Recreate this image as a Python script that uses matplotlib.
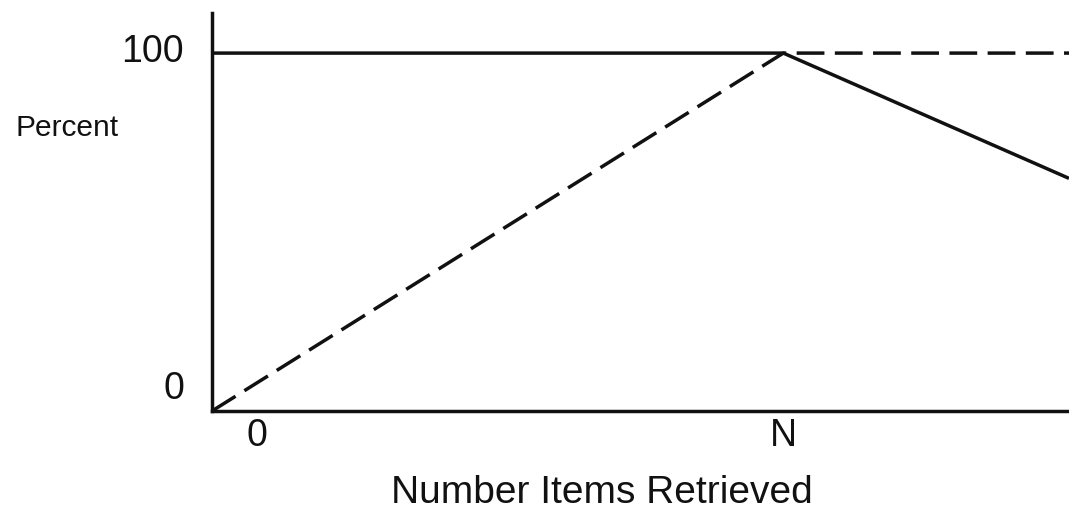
import matplotlib
matplotlib.use("Agg")
import matplotlib.pyplot as plt

# items retrieved, in units of N
items = [0, 1, 1.5]
precision = [100, 100, 65]   # solid
recall = [0, 100, 100]       # dashed

x_ticks = [0, 1]
x_tick_labels = ["0", "N"]
y_ticks = [0, 100]
y_tick_labels = ["0", "100"]

plt.rcParams["font.family"] = ["Liberation Sans", "DejaVu Sans"]
plt.rcParams["lines.scale_dashes"] = False

fig = plt.figure(figsize=(10.69, 5.17), dpi=100)
ax = fig.add_axes([212 / 1069, 106 / 517, 857 / 1069, 398 / 517])

ink = "#111111"
ax.plot(items, precision, color=ink, lw=2.5, solid_capstyle="butt")
ax.plot(items, recall, color=ink, lw=2.5, dashes=(20, 7.5), dash_capstyle="butt")

ax.set_xlim(0, 1.5)
ax.set_ylim(0, 111.2)
for side in ("top", "right"):
    ax.spines[side].set_visible(False)
for side in ("left", "bottom"):
    ax.spines[side].set_linewidth(2.5)
    ax.spines[side].set_color(ink)
ax.set_xticks([])
ax.set_yticks([])

# tick labels, placed like the original scan
x_off = {"0": 45, "N": 0}
for x, lab in zip(x_ticks, x_tick_labels):
    ax.annotate(lab, xy=(x, 0), xytext=(x_off[lab], -25), textcoords="offset pixels",
                ha="center", va="center", fontsize=27, color=ink)
y_off = {"0": 22, "100": 1}
for y, lab in zip(y_ticks, y_tick_labels):
    ax.annotate(lab, xy=(0, y), xytext=(-28, y_off[lab]), textcoords="offset pixels",
                ha="right", va="center", fontsize=27, color=ink)

ax.annotate("Percent", xy=(0, 79), xytext=(-145, 0), textcoords="offset pixels",
            ha="center", va="center", fontsize=21.5, color=ink)
ax.annotate("Number Items Retrieved", xy=(0.682, 0), xytext=(0, -82),
            textcoords="offset pixels", ha="center", va="center",
            fontsize=28, color=ink, annotation_clip=False)

fig.savefig("out.png", dpi=100)
